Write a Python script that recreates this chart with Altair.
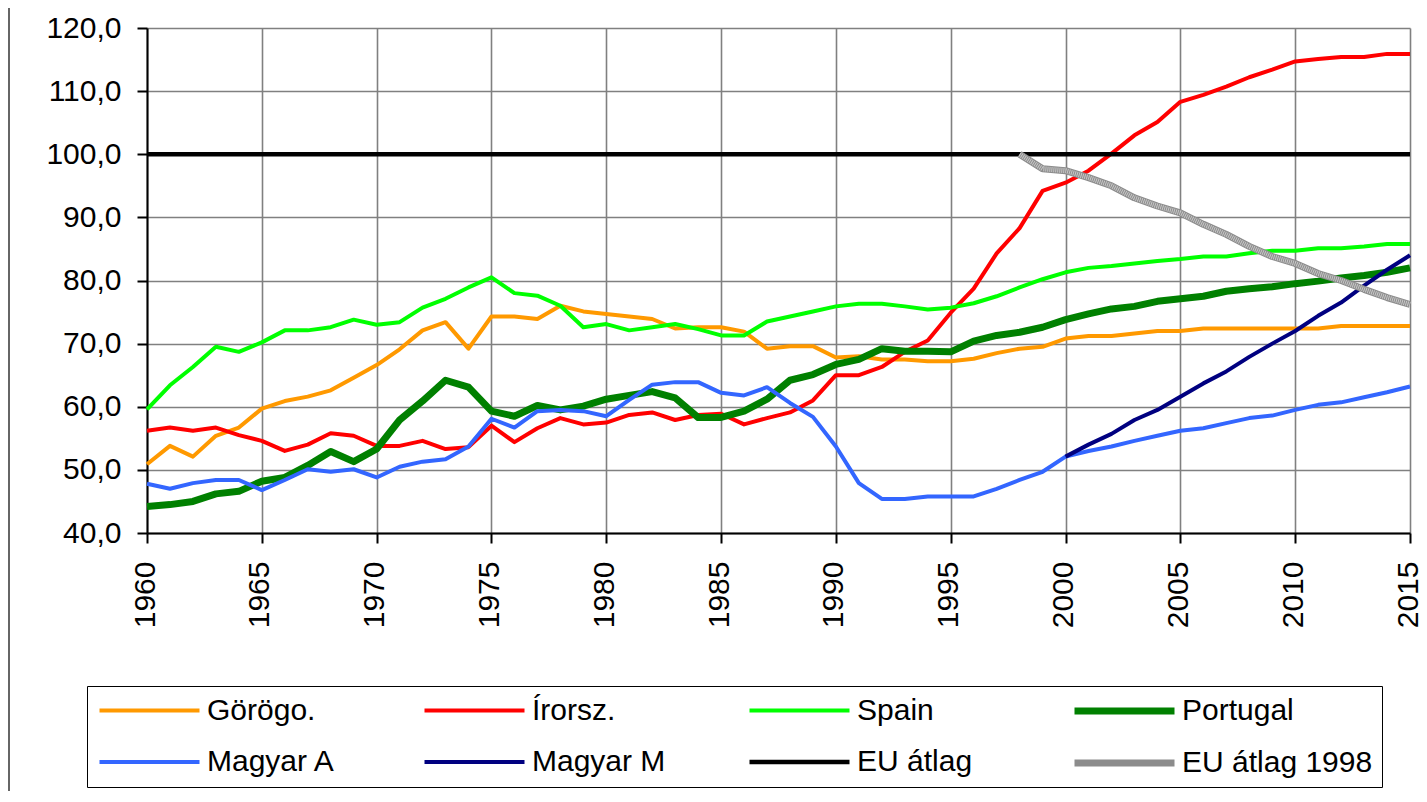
import altair as alt
import pandas as pd

years = list(range(1960, 2016))

series_names = ["Görögo.", "Írorsz.", "Spain", "Portugal",
                "Magyar A", "Magyar M", "EU átlag", "EU átlag 1998"]
colors = ["#FF9900", "#FF0000", "#00FF00", "#008000",
          "#3366FF", "#000080", "#000000", "#8C8C8C"]
widths = [4, 4, 4, 7, 4, 4, 4.5, 7]

greece = [50.9, 53.8, 52.1, 55.4, 56.7, 59.7, 60.9, 61.6, 62.6, 64.6,
          66.6, 69.1, 72.1, 73.4, 69.2, 74.3, 74.3, 73.9, 76.0, 75.1,
          74.7, 74.3, 73.9, 72.4, 72.6, 72.6, 71.9, 69.2, 69.6, 69.6,
          67.8, 68.0, 67.5, 67.5, 67.2, 67.2, 67.6, 68.5, 69.2, 69.5,
          70.8, 71.2, 71.2, 71.6, 72.0, 72.0, 72.4, 72.4, 72.4, 72.4,
          72.4, 72.4, 72.8, 72.8, 72.8, 72.8]
ireland = [56.2, 56.7, 56.2, 56.7, 55.5, 54.6, 53.0, 54.0, 55.8, 55.4,
           53.8, 53.8, 54.6, 53.3, 53.6, 57.0, 54.4, 56.6, 58.2, 57.2,
           57.5, 58.7, 59.1, 57.9, 58.7, 58.9, 57.2, 58.2, 59.1, 61.0,
           65.0, 65.0, 66.3, 68.7, 70.5, 74.9, 78.7, 84.3, 88.3, 94.2,
           95.5, 97.4, 100.1, 103.0, 105.1, 108.3, 109.4, 110.7, 112.2, 113.4,
           114.7, 115.1, 115.4, 115.4, 115.9, 115.9]
spain = [59.6, 63.4, 66.3, 69.5, 68.7, 70.2, 72.1, 72.1, 72.6, 73.8,
         73.0, 73.4, 75.7, 77.1, 78.9, 80.5, 78.0, 77.6, 76.0, 72.6,
         73.1, 72.1, 72.6, 73.1, 72.3, 71.3, 71.3, 73.5, 74.3, 75.1,
         75.9, 76.3, 76.3, 75.9, 75.4, 75.7, 76.4, 77.5, 78.9, 80.2,
         81.3, 82.0, 82.3, 82.7, 83.1, 83.4, 83.8, 83.8, 84.3, 84.7,
         84.7, 85.1, 85.1, 85.4, 85.8, 85.8]
portugal = [44.2, 44.5, 45.0, 46.2, 46.6, 48.2, 48.8, 50.7, 52.9, 51.3,
            53.3, 57.9, 60.9, 64.2, 63.1, 59.3, 58.5, 60.2, 59.5, 60.1,
            61.2, 61.8, 62.4, 61.4, 58.3, 58.3, 59.3, 61.2, 64.2, 65.1,
            66.7, 67.5, 69.2, 68.8, 68.8, 68.7, 70.4, 71.3, 71.8, 72.6,
            73.8, 74.7, 75.5, 75.9, 76.7, 77.1, 77.5, 78.3, 78.7, 79.0,
            79.5, 79.9, 80.4, 80.8, 81.3, 82.0]
hungary_a = [47.8, 47.0, 47.9, 48.4, 48.4, 46.8, 48.4, 50.1, 49.7, 50.1,
             48.8, 50.5, 51.3, 51.7, 53.7, 58.1, 56.7, 59.3, 59.5, 59.3,
             58.5, 61.1, 63.5, 63.9, 63.9, 62.2, 61.8, 63.1, 60.6, 58.4,
             53.7, 47.9, 45.4, 45.4, 45.8, 45.8, 45.8, 47.0, 48.4, 49.7,
             52.1, 53.0, 53.7, 54.6, 55.4, 56.2, 56.6, 57.4, 58.2, 58.6,
             59.5, 60.3, 60.7, 61.5, 62.3, 63.2]
hungary_m_years = list(range(2000, 2016))
hungary_m = [52.1, 54.0, 55.7, 57.9, 59.5, 61.6, 63.7, 65.6, 67.9, 70.0,
             72.0, 74.4, 76.5, 79.2, 81.7, 84.0]
eu_avg = [100.0] * len(years)
eu1998_years = list(range(1998, 2016))
eu1998 = [100.0, 97.7, 97.4, 96.3, 95.0, 93.1, 91.8, 90.7, 88.9, 87.3,
          85.4, 83.8, 82.7, 81.1, 80.0, 78.6, 77.3, 76.2]

x_ticks = list(range(1960, 2016, 5))
y_ticks = list(range(40, 121, 10))

all_series = [
    (series_names[0], years, greece),
    (series_names[1], years, ireland),
    (series_names[2], years, spain),
    (series_names[3], years, portugal),
    (series_names[4], years, hungary_a),
    (series_names[5], hungary_m_years, hungary_m),
    (series_names[6], years, eu_avg),
    (series_names[7], eu1998_years, eu1998),
]
rows = []
for name, yrs, vals in all_series:
    for yr, v in zip(yrs, vals):
        rows.append({"series": name, "year": yr, "value": v})
df = pd.DataFrame(rows)
df_eu98 = df[df["series"] == series_names[7]]

FONT = "Liberation Sans"

x_enc = alt.X("year:Q", title=None,
              scale=alt.Scale(domain=[1960, 2015], nice=False, zero=False),
              axis=alt.Axis(values=x_ticks, format="d", labelAngle=-90,
                            labelPadding=18, labelOffset=-2, grid=True))
y_enc = alt.Y("value:Q", title=None,
              scale=alt.Scale(domain=[40, 120], nice=False, zero=False),
              axis=alt.Axis(values=y_ticks, labelPadding=16,
                            labelExpr="replace(format(datum.value, '.1f'), '.', ',')",
                            grid=True))

# symbol: a horizontal stroke 100px long drawn from the entry's left edge
legend = alt.Legend(orient="none", legendX=-60, legendY=658,
                    direction="horizontal", columns=4, gridAlign="all",
                    columnPadding=12, rowPadding=21, padding=9,
                    strokeColor="black", fillColor="white",
                    symbolType="M-1,0H7", symbolSize=625, labelOffset=79,
                    labelFont=FONT, labelFontSize=30, labelColor="black",
                    labelLimit=400)

lines = alt.Chart(df).mark_line(strokeJoin="round", strokeCap="butt").encode(
    x=x_enc,
    y=y_enc,
    color=alt.Color("series:N", title=None, sort=series_names,
                    scale=alt.Scale(domain=series_names, range=colors),
                    legend=legend),
    strokeWidth=alt.StrokeWidth("series:N", title=None, sort=series_names,
                                scale=alt.Scale(type="ordinal", domain=series_names, range=widths),
                                legend=legend),
)

texture = alt.Chart(df_eu98).mark_line(color="#C8C8C8", strokeWidth=5,
                                       strokeDash=[1, 1], strokeCap="butt").encode(
    x=alt.X("year:Q"), y=alt.Y("value:Q"))

border = alt.Chart(pd.DataFrame({"k": [0]})).mark_rule(
    color="#333333", strokeWidth=1.5).encode(
    x=alt.value(-138), y=alt.value(-28), y2=alt.value(800))

chart = alt.layer(lines, texture, border).properties(
    width=1263, height=505,
    padding={"left": 139, "top": 20, "right": 9, "bottom": 258},
    autosize=alt.AutoSizeParams(type="none"),
).configure_axis(
    gridColor="#808080", gridWidth=1.6, gridOpacity=1,
    domainColor="black", domainWidth=2,
    tickColor="black", tickWidth=2, tickSize=10,
    labelFont=FONT, labelFontSize=30, labelColor="black",
).configure_view(stroke="transparent")

chart.save("out.html", embed_options={"renderer": "svg", "actions": False})
